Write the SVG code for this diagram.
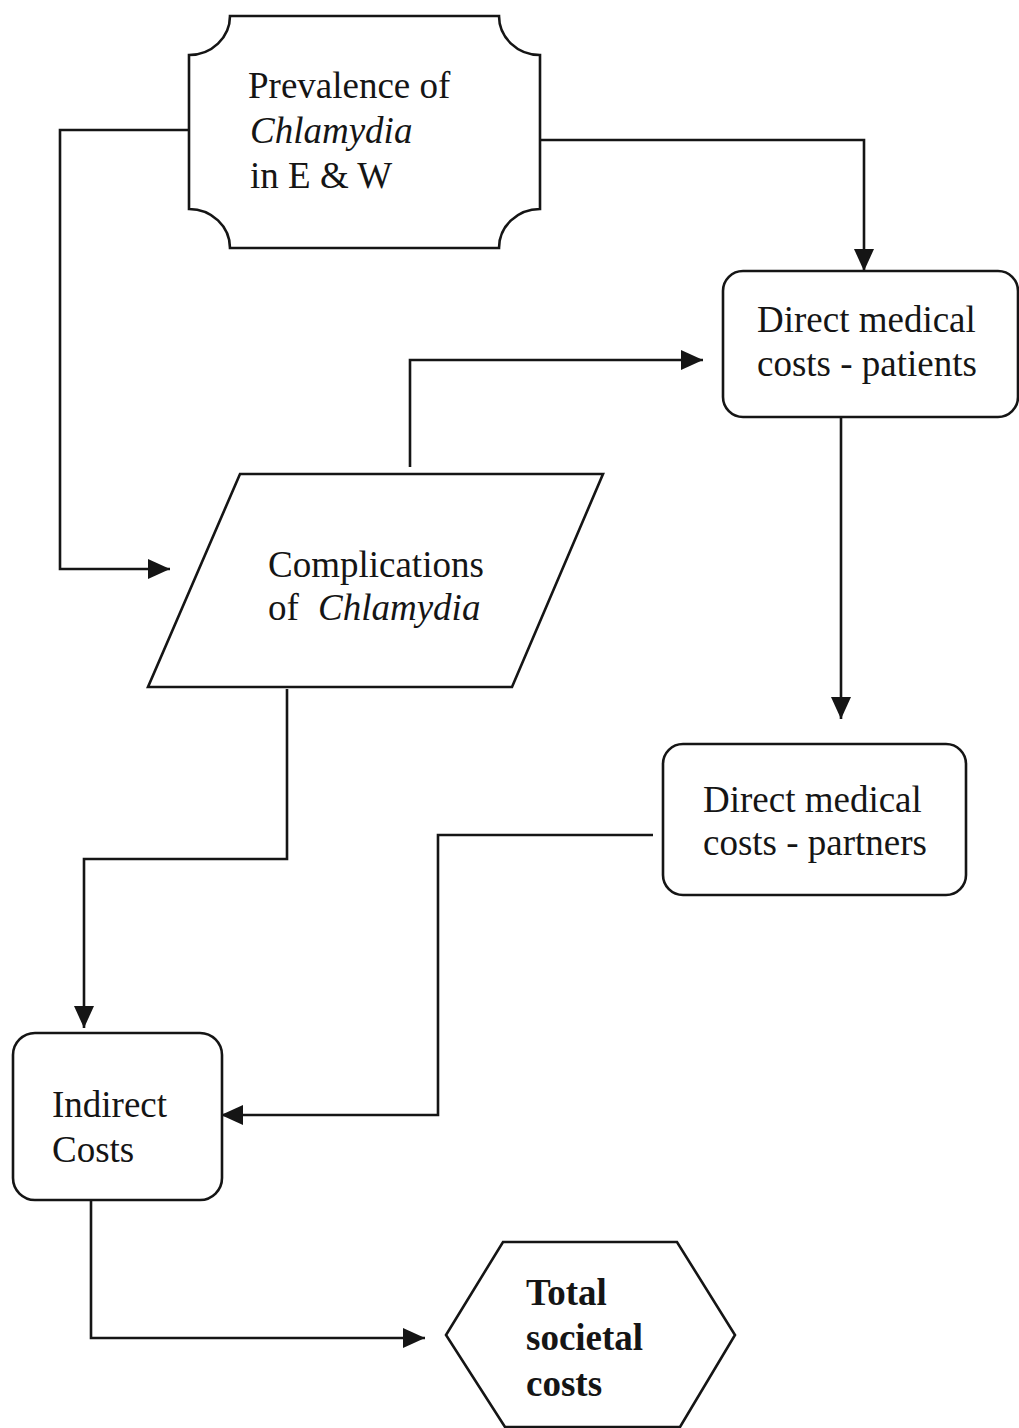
<svg xmlns="http://www.w3.org/2000/svg" width="1019" height="1428" viewBox="0 0 1019 1428">
  <style>
    .shape { fill: #ffffff; stroke: #151515; stroke-width: 2.6; }
    .wire { fill: none; stroke: #151515; stroke-width: 2.6; }
    .lbl { font-family: "Liberation Serif", "Times New Roman", serif; font-size: 37px; fill: #151515; }
    .em { font-style: italic; }
    .strong { font-weight: bold; }
  </style>
  <defs>
    <marker id="arrow" viewBox="0 0 22 20" refX="22" refY="10" markerWidth="22" markerHeight="20" markerUnits="userSpaceOnUse" orient="auto">
      <path d="M0,0 L22,10 L0,20 Z" fill="#151515"/>
    </marker>
  </defs>
  <rect width="1019" height="1428" fill="#ffffff"/>

  <!-- connectors -->
  <g id="connectors">
    <path class="wire" d="M189,130 H60 V569 H170" marker-end="url(#arrow)"/>
    <path class="wire" d="M540,140 H864 V271" marker-end="url(#arrow)"/>
    <path class="wire" d="M410,467 V360 H703" marker-end="url(#arrow)"/>
    <path class="wire" d="M841,417 V719" marker-end="url(#arrow)"/>
    <path class="wire" d="M287,689 V859 H84 V1028" marker-end="url(#arrow)"/>
    <path class="wire" d="M653,835 H438 V1115 H221" marker-end="url(#arrow)"/>
    <path class="wire" d="M91,1200 V1338 H425" marker-end="url(#arrow)"/>
  </g>

  <!-- prevalence (scroll-cornered box) -->
  <g id="prevalence">
    <path class="shape" d="M230,16 H499 A41,39 0 0 0 540,55 V209 A41,39 0 0 0 499,248 H230 A41,39 0 0 0 189,209 V55 A41,39 0 0 0 230,16 Z"/>
    <text class="lbl" x="248" y="98">Prevalence of</text>
    <text class="lbl em" x="250" y="143">Chlamydia</text>
    <text class="lbl" x="250" y="188">in E &amp; W</text>
  </g>

  <!-- direct costs for patients -->
  <g id="patients">
    <rect class="shape" x="723" y="271" width="295" height="146" rx="20" ry="20"/>
    <text class="lbl" x="757" y="332">Direct medical</text>
    <text class="lbl" x="757" y="376">costs - patients</text>
  </g>

  <!-- complications (parallelogram) -->
  <g id="complications">
    <polygon class="shape" points="240,474 603,474 512,687 148,687"/>
    <text class="lbl" x="268" y="577">Complications</text>
    <text class="lbl" x="268" y="620">of <tspan class="em" x="318">Chlamydia</tspan></text>
  </g>

  <!-- direct costs for partners -->
  <g id="partners">
    <rect class="shape" x="663" y="744" width="303" height="151" rx="20" ry="20"/>
    <text class="lbl" x="703" y="812">Direct medical</text>
    <text class="lbl" x="703" y="855">costs - partners</text>
  </g>

  <!-- indirect costs -->
  <g id="indirect">
    <rect class="shape" x="13" y="1033" width="209" height="167" rx="22" ry="22"/>
    <text class="lbl" x="52" y="1117">Indirect</text>
    <text class="lbl" x="52" y="1162">Costs</text>
  </g>

  <!-- total societal costs (hexagon) -->
  <g id="total">
    <polygon class="shape" points="503,1242 677,1242 735,1335 680,1427 505,1427 446,1335"/>
    <text class="lbl strong" x="526" y="1305">Total</text>
    <text class="lbl strong" x="526" y="1350">societal</text>
    <text class="lbl strong" x="526" y="1396">costs</text>
  </g>
</svg>
